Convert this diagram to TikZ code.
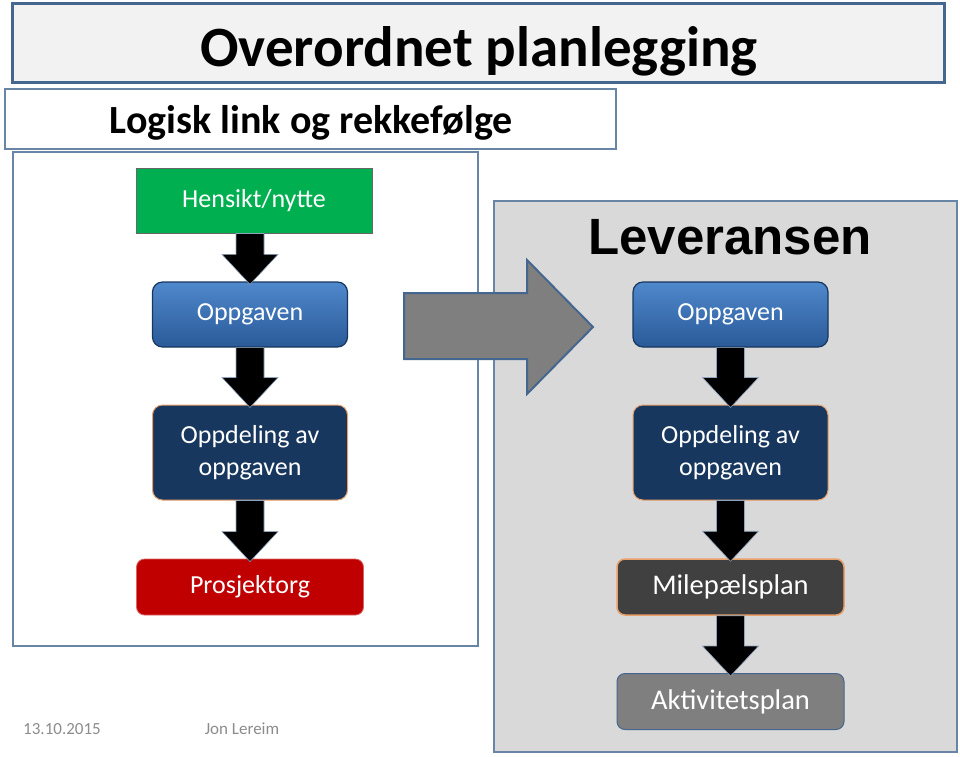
\documentclass[tikz,border=0pt]{standalone}
\usepackage{fontspec}
\setmainfont{Carlito}
\newfontfamily\arialfont{Liberation Sans}
\usetikzlibrary{calc}

\definecolor{rammeblaa}{HTML}{44668F}
\definecolor{tittelfyll}{HTML}{F2F2F2}
\definecolor{gronn}{HTML}{00B050}
\definecolor{blaatopp}{HTML}{4F88CC}
\definecolor{blaabunn}{HTML}{2A5A98}
\definecolor{marine}{HTML}{17375E}
\definecolor{rod}{HTML}{C00000}
\definecolor{morkgraa}{HTML}{404040}
\definecolor{graa}{HTML}{7F7F7F}
\definecolor{bakgrunn}{HTML}{D9D9D9}
\definecolor{oransje}{HTML}{E9A06A}
\definecolor{fotgraa}{HTML}{8C8C8C}

% svart blokkpil fra boks til boks
\newcommand{\blokkpil}[2]{%
  \draw[pil] ($(#1.south -| #2.north)+(-14,0)$) -- ($(#2.north)+(-14,-27)$) -- ++(-14,0)
    -- ($(#2.north)+(0,3)$) -- ($(#2.north)+(28,-27)$) -- ++(-14,0)
    -- ($(#1.south -| #2.north)+(14,0)$) -- cycle;}

\begin{document}
\begin{tikzpicture}[x=1pt,y=-1pt,
  boks/.style={minimum width=195pt,minimum height=65pt,inner sep=0pt,text=white,
    font=\fontsize{26}{32}\selectfont,align=center},
  oppg/.style={boks,rounded corners=10pt,draw=marine,line width=1.2pt,top color=blaatopp,bottom color=blaabunn},
  deling/.style={boks,minimum height=95pt,rounded corners=10pt,fill=marine,draw=oransje,line width=1pt},
  plan/.style={boks,minimum width=227pt,minimum height=56pt,rounded corners=8pt,font=\fontsize{28.5}{32}\selectfont},
  pil/.style={fill=black,draw=rammeblaa!60,line width=0.6pt},
  fot/.style={text=fotgraa,font=\fontsize{17}{20}\selectfont}]
\useasboundingbox (0,0) rectangle (960,756);

\node[draw=rammeblaa,line width=3pt,fill=tittelfyll,minimum width=932pt,minimum height=79pt] (tittelboks) at (478,42.5) {};
\node[anchor=base,font=\fontsize{57}{60}\selectfont\bfseries] (tittel) at (479,66) {Overordnet planlegging};
\node[draw=rammeblaa!80,line width=1.2pt,fill=white,minimum width=611pt,minimum height=60pt] (logiskboks) at (310.5,119) {};
\node[anchor=base,font=\fontsize{40}{42}\selectfont\bfseries] (logisk) at (311.5,133) {Logisk link og rekkefølge};
\node[draw=rammeblaa!80,line width=1.2pt,minimum width=465pt,minimum height=494pt] (venstre) at (245.5,399) {};
\node[draw=rammeblaa!80,line width=1.2pt,fill=bakgrunn,minimum width=463pt,minimum height=551pt] (hoyre) at (725.5,476.5) {};

\draw[fill=graa,draw=rammeblaa,line width=2pt] (404,293) -- ++(123,0) -- ++(0,-33) -- ++(66,67) -- ++(-66,67) -- ++(0,-35) -- ++(-123,0) -- cycle;

% venstre kolonne
\node[boks,minimum width=236pt,fill=gronn,draw=black!60,line width=1pt] (hensikt) at (254,200.5) {Hensikt/nytte};
\node[oppg] (oppg1) at (250,314.5) {Oppgaven};
\node[deling] (deling1) at (250,452.5) {Oppdeling av\\oppgaven};
\node[plan,fill=rod,draw=rod!60,line width=0.8pt,font=\fontsize{26}{30}\selectfont] (org) at (250,587) {Prosjektorg};

% hoyre kolonne
\node[font=\arialfont\fontsize{51}{56}\selectfont\bfseries] (lev) at (730,237) {Leveransen};
\node[oppg] (oppg2) at (730.5,314.5) {Oppgaven};
\node[deling] (deling2) at (730.5,452.5) {Oppdeling av\\oppgaven};
\node[plan,fill=morkgraa,draw=oransje,line width=1.5pt] (mile) at (730.5,587) {Milepælsplan};
\node[plan,fill=graa,draw=rammeblaa,line width=1pt] (akt) at (730.5,701.5) {Aktivitetsplan};

\blokkpil{hensikt}{oppg1}
\blokkpil{oppg1}{deling1}
\blokkpil{deling1}{org}
\blokkpil{oppg2}{deling2}
\blokkpil{deling2}{mile}
\blokkpil{mile}{akt}

\node[fot] (dato) at (62,729) {13.10.2015};
\node[fot] (navn) at (242,729) {Jon Lereim};
\end{tikzpicture}
\end{document}
